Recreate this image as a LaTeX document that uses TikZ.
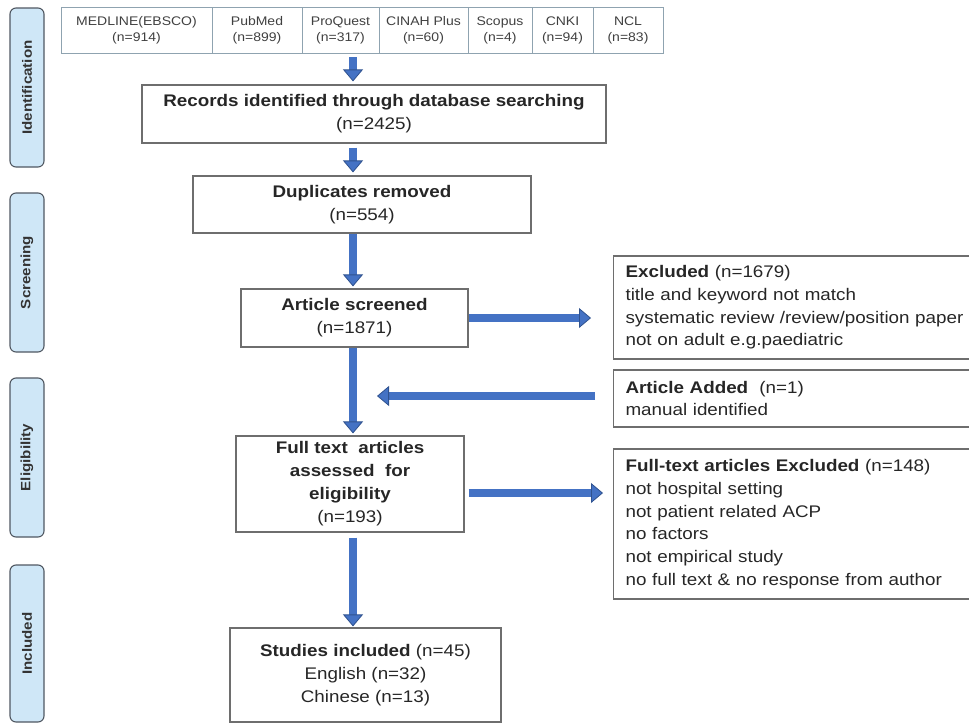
\documentclass[tikz,border=0pt]{standalone}
\usepackage{fontspec}
\setmainfont{Liberation Sans}[FakeStretch=1.12]
\usetikzlibrary{arrows.meta}
\definecolor{arrowblue}{HTML}{4472C4}
\definecolor{arrowedge}{HTML}{2F528F}
\definecolor{boxline}{HTML}{6E6E6E}
\definecolor{cellline}{HTML}{8FA3B0}
\definecolor{stagefill}{HTML}{CFE7F7}
\definecolor{stageline}{HTML}{505862}

\begin{document}
\begin{tikzpicture}[x=1pt,y=-1pt,
    box/.style={draw=boxline,line width=1.1pt,align=center,inner sep=0pt,text=black!85,
      font=\fontsize{16.8}{23}\selectfont},
    sidebox/.style={draw=boxline,line width=1.1pt,align=left,inner ysep=0pt,inner xsep=12pt,
      text width=345pt,text=black!85,font=\fontsize{16.8}{22.7}\selectfont},
    dbcell/.style={draw=cellline,line width=0.9pt,align=center,inner sep=0pt,minimum height=46pt,
      text=black!75,font=\fontsize{12.5}{16}\selectfont},
    stage/.style={draw=stageline,fill=stagefill,line width=1.1pt,rounded corners=6pt,rotate=90,
      minimum height=34pt,text=black!80,font=\bfseries\fontsize{13.5}{15}\selectfont},
    blockarrow/.style={line width=7.5pt,draw=arrowblue,
      -{Triangle[width=20pt,length=12pt,fill=arrowblue,color=arrowedge,line width=0.8pt]}}]
		\clip (0,0) rectangle (969,723);
		% stages
		\node[stage,minimum width=159pt] (sIdent) at (27,87.5) {Identification};
		\node[stage,minimum width=159pt] (sScreen) at (27,272.5) {Screening};
		\node[stage,minimum width=159pt] (sElig) at (27,457.5) {Eligibility};
		\node[stage,minimum width=157pt] (sIncl) at (27,643.5) {Included};
		% databases
		\foreach \nm/\lab/\cnt/\xa/\xb in {db1/MEDLINE(EBSCO)/914/61/212, db2/PubMed/899/212/302,
		    db3/ProQuest/317/302/379, db4/CINAH Plus/60/379/468, db5/Scopus/4/468/532,
		    db6/CNKI/94/532/593, db7/NCL/83/593/663}{
			\pgfmathsetmacro\w{\xb-\xa}
			\node[dbcell,minimum width=\w pt] (\nm) at ({(\xa+\xb)/2},30) {\lab\\(n=\cnt)};
		}
		% main flow
		\node[box,minimum width=464pt,minimum height=58pt] (records) at (374,114)
			{\textbf{Records identified through database searching}\\(n=2425)};
		\node[box,minimum width=338pt,minimum height=57pt] (dup) at (362,204.5)
			{\textbf{Duplicates removed}\\(n=554)};
		\node[box,minimum width=227pt,minimum height=58pt] (screened) at (354.5,318)
			{\textbf{Article screened}\\(n=1871)};
		\node[box,minimum width=228pt,minimum height=96pt] (fulltext) at (350,484)
			{\textbf{Full text\ \ articles}\\\textbf{assessed\ \ for}\\\textbf{eligibility}\\(n=193)};
		\node[box,minimum width=271pt,minimum height=94pt] (studies) at (365.5,675)
			{\textbf{Studies included} (n=45)\\English (n=32)\\Chinese (n=13)};
		% side boxes
		\node[sidebox,minimum height=103pt,anchor=west] (excl) at (613,307.5)
			{\textbf{Excluded} (n=1679)\\title and keyword not match\\systematic review /review/position paper\\not on adult e.g.paediatric};
		\node[sidebox,minimum height=57pt,anchor=west] (added) at (613,398.5)
			{\textbf{Article Added}\ \ (n=1)\\manual identified};
		\node[sidebox,minimum height=150pt,anchor=west] (ftexcl) at (613,524)
			{\textbf{Full-text articles Excluded} (n=148)\\not hospital setting\\not patient related ACP\\no factors\\not empirical study\\no full text \& no response from author};
		% arrows
		\coordinate (spine) at (353,0);
		\coordinate (mergept) at (377,396);
		\draw[blockarrow,line width=8pt,shorten <=4pt,shorten >=3pt] (db3.south -| spine) -- (records.north -| spine);
		\draw[blockarrow,shorten <=4pt,shorten >=3pt] (records.south -| spine) -- (dup.north -| spine);
		\draw[blockarrow,shorten >=2pt] (dup.south -| spine) -- (screened.north -| spine);
		\draw[blockarrow,shorten >=2pt] (screened.south -| spine) -- (fulltext.north -| spine);
		\draw[blockarrow,shorten <=5pt,shorten >=1pt] (fulltext.south -| spine) -- (studies.north -| spine);
		\draw[blockarrow,shorten >=22pt] (screened.east) -- (screened.east -| excl.west);
		\draw[blockarrow,shorten <=18pt] (added.west |- mergept) -- (mergept);
		\draw[blockarrow,shorten <=4pt,shorten >=10pt] ([yshift=-9pt]fulltext.east) -- ([yshift=-9pt]fulltext.east -| ftexcl.west);
	\end{tikzpicture}
\end{document}
